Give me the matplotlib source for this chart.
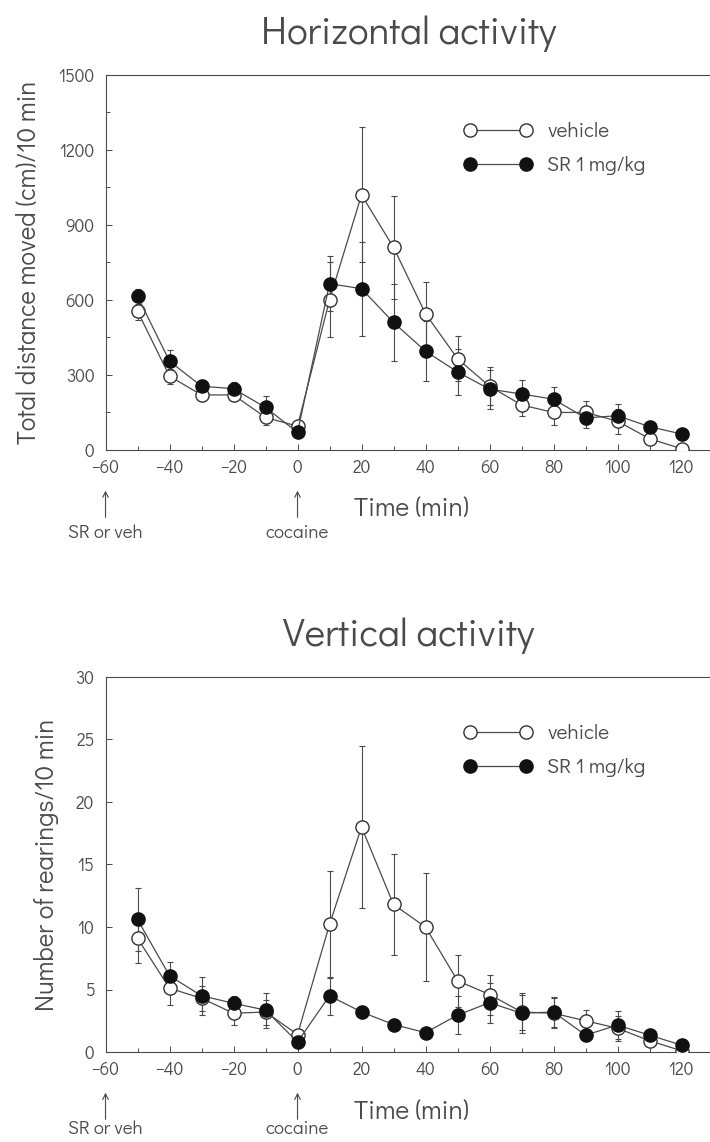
import numpy as np
import matplotlib
matplotlib.use('Agg')
import matplotlib.pyplot as plt
from matplotlib.ticker import MultipleLocator

# ---- data ----
times = [-50, -40, -30, -20, -10, 0, 10, 20, 30, 40, 50, 60, 70, 80, 90, 100, 110, 120]

horiz_veh = [555, 295, 220, 220, 130, 95, 600, 1020, 810, 545, 365, 255, 180, 150, 150, 115, 45, 5]
horiz_veh_sem = [35, 30, 25, 25, 30, 15, 150, 270, 205, 127, 90, 75, 45, 50, 45, 50, 20, 15]
horiz_sr = [615, 355, 255, 245, 170, 70, 665, 645, 510, 395, 312, 243, 224, 203, 128, 137, 93, 64]
horiz_sr_sem = [30, 45, 25, 25, 45, 15, 110, 188, 155, 120, 93, 78, 55, 50, 40, 45, 20, 15]

vert_veh = [9.1, 5.1, 4.3, 3.1, 3.2, 1.4, 10.2, 18.0, 11.8, 10.0, 5.7, 4.6, 3.2, 3.1, 2.5, 1.9, 0.9, 0.1]
vert_veh_sem = [2.0, 1.3, 1.0, 0.9, 1.0, 0.4, 4.3, 6.5, 4.0, 4.3, 2.1, 1.6, 1.4, 1.2, 0.9, 1.0, 0.4, 0.3]
vert_sr = [10.6, 6.1, 4.5, 3.9, 3.35, 0.8, 4.5, 3.2, 2.2, 1.55, 2.95, 3.95, 3.1, 3.2, 1.35, 2.15, 1.35, 0.55]
vert_sr_sem = [2.5, 1.1, 1.5, 0.6, 1.4, 0.3, 1.5, 0.3, 0.3, 0.3, 1.5, 1.6, 1.6, 1.2, 0.4, 1.1, 0.4, 0.3]

xticks = [-60, -40, -20, 0, 20, 40, 60, 80, 100, 120]

txtcol = '#4a4a4a'
linecol = '#4a4a4a'
plt.rcParams['font.family'] = ['Didact Gothic', 'Questrial', 'Lato', 'DejaVu Sans']

fig = plt.figure(figsize=(7.1, 11.42), dpi=100)
ax1 = fig.add_axes([0.1486, 0.6060, 0.8514, 0.3284])
ax2 = fig.add_axes([0.1486, 0.0788, 0.8514, 0.3284])


def panel(ax, veh, veh_sem, sr, sr_sem, ymax, ymajor, yminor, ylabel, title, note_y):
    ax.errorbar(times, veh, yerr=veh_sem, fmt='none', ecolor=linecol,
                elinewidth=0.8, capsize=2, capthick=0.8, zorder=2)
    ax.errorbar(times, sr, yerr=sr_sem, fmt='none', ecolor=linecol,
                elinewidth=0.8, capsize=2, capthick=0.8, zorder=2)
    ax.plot(times, veh, '-o', color=linecol, lw=0.9, ms=9.5, mfc='white',
            mec='#333333', mew=1.0, label='vehicle', zorder=3)
    ax.plot(times, sr, '-o', color=linecol, lw=0.9, ms=9.5, mfc='#111111',
            mec='#111111', mew=1.0, label='SR 1 mg/kg', zorder=4)

    ax.set_xlim(-60, 128.9)
    ax.set_ylim(0, ymax)
    ax.set_xticks(xticks)
    ax.xaxis.set_minor_locator(MultipleLocator(10))
    ax.yaxis.set_major_locator(MultipleLocator(ymajor))
    if yminor:
        ax.yaxis.set_minor_locator(MultipleLocator(yminor))
    ax.tick_params(which='both', direction='in', colors=linecol, labelcolor=txtcol,
                   labelsize=12.5, width=0.7)
    ax.tick_params(which='major', length=4)
    ax.tick_params(which='minor', length=3)
    ax.tick_params(axis='x', pad=7)
    ax.tick_params(axis='y', pad=8)
    ax.spines['right'].set_visible(False)
    for s in ['left', 'bottom', 'top']:
        ax.spines[s].set_color(linecol)
        ax.spines[s].set_linewidth(0.8)

    ax.set_ylabel(ylabel, fontsize=18.5, color=txtcol, labelpad=12)
    ax.set_title(title, fontsize=28, color=txtcol, pad=22, x=0.502)

    ax.legend(loc='upper left', bbox_to_anchor=(0.562, 0.925), numpoints=2,
              frameon=False, fontsize=15, handlelength=3.3, handletextpad=0.7,
              labelspacing=0.75, labelcolor=txtcol)

    # time label and arrows under the axis
    ax.text(35.5, -0.158, 'Time (min)', transform=ax.get_xaxis_transform(),
            ha='center', va='center', fontsize=19, color=txtcol)
    for xv, lab in [(-60, 'SR or veh'), (0, 'cocaine')]:
        ax.annotate('', xy=(xv, -0.101), xytext=(xv, -0.187),
                    xycoords=ax.get_xaxis_transform(), textcoords=ax.get_xaxis_transform(),
                    arrowprops=dict(arrowstyle='->', color=linecol, lw=0.8))
        ax.text(xv, note_y, lab, transform=ax.get_xaxis_transform(),
                ha='center', va='center', fontsize=13.5, color=txtcol)


panel(ax1, horiz_veh, horiz_veh_sem, horiz_sr, horiz_sr_sem, 1500, 300, 150,
      'Total distance moved (cm)/10 min', 'Horizontal activity', -0.222)
panel(ax2, vert_veh, vert_veh_sem, vert_sr, vert_sr_sem, 30, 5, None,
      'Number of rearings/10 min', 'Vertical activity', -0.207)

fig.savefig('out.png', dpi=100)
